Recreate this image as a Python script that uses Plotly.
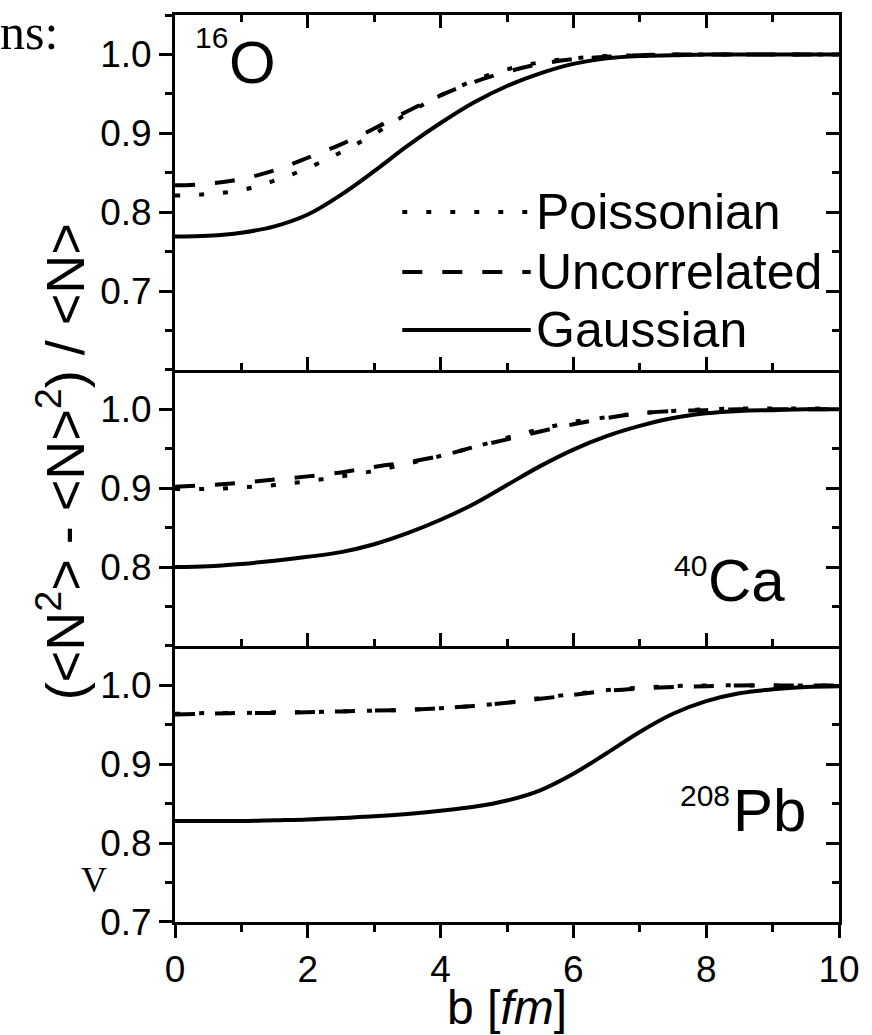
import plotly.graph_objects as go

# ---------------- data ----------------
b = [0, 0.5, 1, 1.5, 2, 2.5, 3, 3.5, 4, 4.5, 5, 5.5, 6, 6.5, 7, 7.5, 8, 8.5, 9, 9.5, 10]

# 16O
gauss_O = [0.769, 0.770, 0.774, 0.782, 0.797, 0.822, 0.852, 0.884, 0.913, 0.939, 0.960,
           0.976, 0.988, 0.995, 0.998, 0.999, 1.000, 1.000, 1.000, 1.000, 1.000]
unc_O = [0.834, 0.836, 0.842, 0.853, 0.869, 0.886, 0.906, 0.928, 0.948, 0.965, 0.978,
         0.988, 0.994, 0.997, 0.999, 1.000, 1.000, 1.000, 1.000, 1.000, 1.000]
poi_O = [0.821, 0.823, 0.828, 0.840, 0.856, 0.876, 0.899, 0.925, 0.948, 0.967, 0.981,
         0.990, 0.995, 0.998, 0.999, 1.000, 1.000, 1.000, 1.000, 1.000, 1.000]

# 40Ca
gauss_Ca = [0.800, 0.801, 0.804, 0.808, 0.813, 0.819, 0.829, 0.843, 0.860, 0.880, 0.904,
            0.928, 0.949, 0.966, 0.979, 0.989, 0.995, 0.998, 0.999, 1.000, 1.000]
unc_Ca = [0.902, 0.904, 0.907, 0.911, 0.915, 0.920, 0.927, 0.933, 0.941, 0.952, 0.962,
          0.972, 0.981, 0.989, 0.995, 0.998, 0.999, 1.000, 1.000, 1.000, 1.000]
poi_Ca = [0.899, 0.899, 0.901, 0.904, 0.909, 0.915, 0.922, 0.931, 0.941, 0.952, 0.964,
          0.975, 0.984, 0.990, 0.995, 0.998, 1.000, 1.001, 1.001, 1.001, 1.001]

# 208Pb
gauss_Pb = [0.828, 0.828, 0.828, 0.829, 0.830, 0.832, 0.834, 0.837, 0.841, 0.846, 0.854,
            0.867, 0.888, 0.914, 0.941, 0.964, 0.980, 0.990, 0.995, 0.998, 0.999]
unc_Pb = [0.963, 0.964, 0.965, 0.965, 0.966, 0.967, 0.968, 0.969, 0.971, 0.974, 0.978,
          0.983, 0.988, 0.993, 0.996, 0.998, 0.999, 1.000, 1.000, 1.000, 1.000]
poi_Pb = [0.964, 0.965, 0.965, 0.966, 0.966, 0.967, 0.968, 0.969, 0.971, 0.974, 0.978,
          0.984, 0.989, 0.994, 0.997, 0.999, 1.000, 1.000, 1.000, 1.000, 1.000]

panels = [
    ("x", "y", gauss_O, unc_O, poi_O),
    ("x2", "y2", gauss_Ca, unc_Ca, poi_Ca),
    ("x3", "y3", gauss_Pb, unc_Pb, poi_Pb),
]
y_ranges = [[0.6, 1.05], [0.7, 1.05], [0.7, 1.05]]
y_tickvals = [[0.7, 0.8, 0.9, 1.0], [0.8, 0.9, 1.0], [0.7, 0.8, 0.9, 1.0]]
x_tickvals = [0, 2, 4, 6, 8, 10]
legend_names = ["Poissonian", "Uncorrelated", "Gaussian"]

# ---------------- style ----------------
SANS = "Liberation Sans, Arial, sans-serif"
SERIF = "Liberation Serif, DejaVu Serif, serif"
LW = 4
DOT = "5px,19px"
DASH = "20px,20px"
TICK_FONT = dict(family=SANS, size=37, color="black")
AX_LW = 3

fig = go.Figure()
for xa, ya, g, u, p in panels:
    fig.add_trace(go.Scatter(x=b, y=p, xaxis=xa, yaxis=ya, mode="lines", line_shape="spline",
                             line=dict(color="black", width=LW, dash=DOT), showlegend=False))
    fig.add_trace(go.Scatter(x=b, y=u, xaxis=xa, yaxis=ya, mode="lines", line_shape="spline",
                             line=dict(color="black", width=LW, dash=DASH), showlegend=False))
    fig.add_trace(go.Scatter(x=b, y=g, xaxis=xa, yaxis=ya, mode="lines", line_shape="spline",
                             line=dict(color="black", width=LW), showlegend=False))

# empty traces so the right-side overlay axes exist
for xa, ya in [("x", "y4"), ("x2", "y5"), ("x3", "y6")]:
    fig.add_trace(go.Scatter(x=[None], y=[None], xaxis=xa, yaxis=ya, showlegend=False,
                             hoverinfo="skip"))

tot = sum(r[1] - r[0] for r in y_ranges)
h_bot = (y_ranges[2][1] - y_ranges[2][0]) / tot
h_mid = (y_ranges[1][1] - y_ranges[1][0]) / tot
domains = [[h_bot + h_mid, 1.0], [h_bot, h_bot + h_mid], [0.0, h_bot]]

layout = dict(
    width=872, height=1035,
    margin=dict(l=175, r=25, t=15, b=113),
    plot_bgcolor="white", paper_bgcolor="white",
    showlegend=False,
    font=dict(family=SANS, color="black"),
)

for i in range(3):
    xk = "xaxis" if i == 0 else f"xaxis{i+1}"
    yk = "yaxis" if i == 0 else f"yaxis{i+1}"
    ysuf = "y" if i == 0 else f"y{i+1}"
    xsuf = "x" if i == 0 else f"x{i+1}"
    last = (i == 2)
    layout[xk] = dict(
        domain=[0, 1], anchor=ysuf, range=[0, 10],
        matches=None if i == 0 else "x",
        showgrid=False, zeroline=False,
        showline=True, linewidth=AX_LW, linecolor="black",
        mirror=("ticks" if i == 0 else False),
        ticks=("outside" if last else "inside"), ticklen=13, tickwidth=2.5, tickcolor="black",
        tickmode="array", tickvals=x_tickvals,
        showticklabels=last, tickfont=TICK_FONT,
        minor=dict(tickmode="linear", tick0=0, dtick=1, ticklen=7, tickwidth=2.5,
                   tickcolor="black", ticks=("outside" if last else "inside")),
    )
    layout[yk] = dict(
        domain=domains[i], anchor=xsuf, range=y_ranges[i],
        showgrid=False, zeroline=False,
        showline=True, linewidth=AX_LW, linecolor="black", mirror=True,
        ticks="outside", ticklen=13, tickwidth=2.5, tickcolor="black",
        tickmode="array", tickvals=y_tickvals[i], ticktext=[f"{v:.1f}" for v in y_tickvals[i]],
        tickfont=TICK_FONT,
        minor=dict(tickmode="linear", tick0=0, dtick=0.05, ticklen=7, tickwidth=2.5,
                   tickcolor="black", ticks="outside"),
    )
    # right-hand inward ticks
    layout[f"yaxis{i+4}"] = dict(
        overlaying=ysuf, side="right", anchor=xsuf, range=y_ranges[i],
        showgrid=False, zeroline=False, showline=False, showticklabels=False,
        ticks="inside", ticklen=13, tickwidth=2.5, tickcolor="black",
        tickmode="linear", tick0=0, dtick=0.1,
        minor=dict(tickmode="linear", tick0=0, dtick=0.05, ticklen=7, tickwidth=2.5,
                   tickcolor="black", ticks="inside"),
    )

fig.update_layout(**layout)

# ---------------- annotations ----------------
def px2x(px):
    return (px - 175) / 672.0

def py2y(py):
    return (922 - py) / 907.0

ann = []
# isotope labels: superscript mass number + element symbol
iso = [("16", "O", 194, 20, 229, 63), ("40", "Ca", 679, 548, 713, 580), ("208", "Pb", 685, 778, 739, 810)]
for sup, el, sx, sy, ex, ey in iso:
    ann.append(dict(text=sup, x=px2x(sx), y=py2y(sy), xref="paper", yref="paper",
                    xanchor="left", yanchor="top", showarrow=False, borderpad=0,
                    font=dict(family=SANS, size=30, color="black")))
    ann.append(dict(text=el, x=px2x(ex), y=py2y(ey), xref="paper", yref="paper",
                    xanchor="left", yanchor="middle", showarrow=False, borderpad=0,
                    font=dict(family=SANS, size=60, color="black")))

# legend (drawn manually: long sample lines as in the original)
leg_y = [212, 272, 330]
leg_dash = [DOT, DASH, "solid"]
shapes = []
for name, ly, dsh in zip(legend_names, leg_y, leg_dash):
    shapes.append(dict(type="line", xref="paper", yref="paper",
                       x0=px2x(405), x1=px2x(535), y0=py2y(ly), y1=py2y(ly),
                       line=dict(color="black", width=LW, dash=dsh)))
    ann.append(dict(text=name, x=px2x(538), y=py2y(ly), xref="paper", yref="paper",
                    xanchor="left", yanchor="middle", showarrow=False,
                    font=dict(family=SANS, size=50, color="black")))

# axis titles
ann.append(dict(text="b [<i>fm</i>]", x=px2x(511), y=py2y(1035), xref="paper", yref="paper",
                xanchor="center", yanchor="bottom", showarrow=False, borderpad=0,
                font=dict(family=SANS, size=48, color="black")))
ann.append(dict(text="(&lt;N<sup>2</sup>&gt; - &lt;N&gt;<sup>2</sup>) / &lt;N&gt;",
                x=px2x(60), y=py2y(462), xref="paper", yref="paper", textangle=-90,
                xanchor="center", yanchor="middle", showarrow=False,
                font=dict(family=SANS, size=54, color="black")))

# fragments of surrounding page text
ann.append(dict(text="ns:", x=px2x(-4), y=py2y(32), xref="paper", yref="paper",
                xanchor="left", yanchor="middle", showarrow=False,
                font=dict(family=SERIF, size=50, color="black")))
ann.append(dict(text="V", x=px2x(78), y=py2y(880), xref="paper", yref="paper",
                xanchor="left", yanchor="middle", showarrow=False,
                font=dict(family=SERIF, size=36, color="black")))

fig.update_layout(annotations=ann, shapes=shapes)
fig.write_html("out.html")
